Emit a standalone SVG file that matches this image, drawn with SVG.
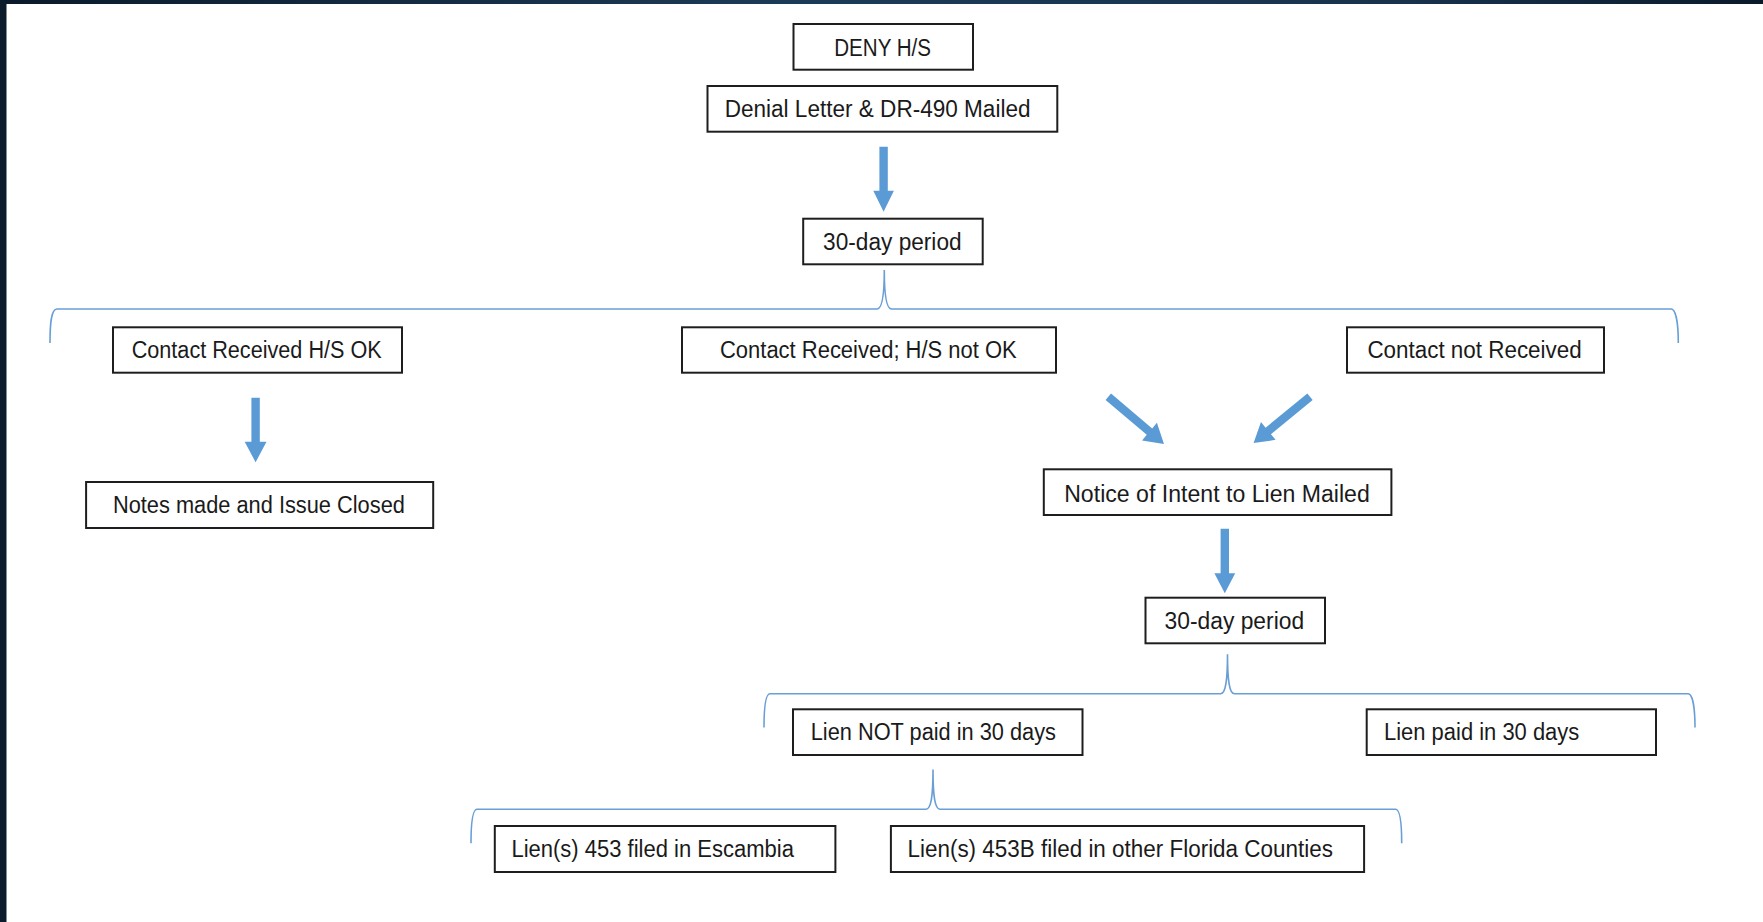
<svg xmlns="http://www.w3.org/2000/svg" xmlns:xlink="http://www.w3.org/1999/xlink" width="1763" height="922" viewBox="0 0 1763 922">
  <defs>
    <linearGradient id="band" x1="0" y1="0" x2="1" y2="0">
      <stop offset="0" stop-color="#0b1a2a"/>
      <stop offset="0.45" stop-color="#1c3b58"/>
      <stop offset="0.8" stop-color="#17324d"/>
      <stop offset="1" stop-color="#0b1a2a"/>
    </linearGradient>
    <path id="darrow" d="M0,-4.2 L54,-4.2 L54,-11.5 L73,0 L54,11.5 L54,4.2 L0,4.2 Z"/>
  </defs>
  <style>
    .box { fill: #ffffff; stroke: #1e1e1e; stroke-width: 2; }
    .lbl { font-family: "Liberation Sans", Arial, sans-serif; font-size: 23px; fill: #1a1a1a; }
    .brace { fill: none; stroke: #6a9fd6; stroke-width: 1.6; }
    .arrow { fill: #5b9bd5; stroke: none; }
  </style>

  <rect x="0" y="0" width="1763" height="922" fill="#ffffff"/>
  <rect x="0" y="0" width="1763" height="4" fill="url(#band)"/>
  <rect x="0" y="0" width="6.5" height="922" fill="#0c1b2b"/>

  <g id="connectors">
    <path class="brace" d="M50,343 C50,324 51,309 57,309 L877,309 C882,309 884.3,296 884.3,270 C884.3,296 886.5,309 891.5,309 L1671,309 C1676,309 1678.3,324 1678.3,343"/>
    <path class="brace" d="M764,727.5 C764,710 765,693.8 770,693.8 L1220.5,693.8 C1225.5,693.8 1227.5,681 1227.5,654.3 C1227.5,681 1229.5,693.8 1234.5,693.8 L1688,693.8 C1693,693.8 1695,710 1695,727.5"/>
    <path class="brace" d="M471,843.3 C471,826 472,809.3 477,809.3 L926,809.3 C931,809.3 933,797 933,769.5 C933,797 935,809.3 940,809.3 L1395.5,809.3 C1400.5,809.3 1401.7,826 1401.7,843.3"/>
    <path class="arrow" d="M879.4,146.7 L887.8,146.7 L887.8,190.7 L893.9,190.7 L883.6,211.7 L873.3,190.7 L879.4,190.7 Z"/>
    <path class="arrow" d="M251.4,397.7 L259.8,397.7 L259.8,441.7 L266.5,441.7 L255.6,462.3 L244.7,441.7 L251.4,441.7 Z"/>
    <path class="arrow" d="M1220.6,528.7 L1229,528.7 L1229,573.3 L1235.2,573.3 L1224.8,593.3 L1214.4,573.3 L1220.6,573.3 Z"/>
    <use class="arrow" xlink:href="#darrow" transform="translate(1108.3,396.7) rotate(40.3)"/>
    <use class="arrow" xlink:href="#darrow" transform="translate(1310,396.7) rotate(140.6)"/>
  </g>

  <g id="n-deny">
    <rect class="box" x="793.5" y="24" width="179.5" height="45.7"/>
    <text class="lbl" x="834.2" y="56" textLength="96.8" lengthAdjust="spacingAndGlyphs">DENY H/S</text>
  </g>
  <g id="n-denial">
    <rect class="box" x="707.5" y="86" width="349.8" height="45.7"/>
    <text class="lbl" x="724.7" y="116.7" textLength="305.8" lengthAdjust="spacingAndGlyphs">Denial Letter &amp; DR-490 Mailed</text>
  </g>
  <g id="n-30day-1">
    <rect class="box" x="803.2" y="218.7" width="179.5" height="45.6"/>
    <text class="lbl" x="823.1" y="249.8" textLength="138.5" lengthAdjust="spacingAndGlyphs">30-day period</text>
  </g>
  <g id="n-ok">
    <rect class="box" x="113" y="327.3" width="289" height="45.4"/>
    <text class="lbl" x="131.7" y="358.3" textLength="250" lengthAdjust="spacingAndGlyphs">Contact Received H/S OK</text>
  </g>
  <g id="n-notok">
    <rect class="box" x="682" y="327.3" width="374" height="45.4"/>
    <text class="lbl" x="720" y="358.3" textLength="296.7" lengthAdjust="spacingAndGlyphs">Contact Received; H/S not OK</text>
  </g>
  <g id="n-notreceived">
    <rect class="box" x="1347" y="327.3" width="257" height="45.4"/>
    <text class="lbl" x="1367.4" y="358.3" textLength="214.3" lengthAdjust="spacingAndGlyphs">Contact not Received</text>
  </g>
  <g id="n-notes">
    <rect class="box" x="86.1" y="482" width="347.1" height="46"/>
    <text class="lbl" x="112.9" y="512.5" textLength="292" lengthAdjust="spacingAndGlyphs">Notes made and Issue Closed</text>
  </g>
  <g id="n-notice">
    <rect class="box" x="1043.8" y="469.3" width="347.6" height="45.7"/>
    <text class="lbl" x="1064.2" y="501.5" textLength="305.6" lengthAdjust="spacingAndGlyphs">Notice of Intent to Lien Mailed</text>
  </g>
  <g id="n-30day-2">
    <rect class="box" x="1145.5" y="597.7" width="179.5" height="45.6"/>
    <text class="lbl" x="1164.5" y="628.8" textLength="139.6" lengthAdjust="spacingAndGlyphs">30-day period</text>
  </g>
  <g id="n-notpaid">
    <rect class="box" x="793" y="709.3" width="289.5" height="45.7"/>
    <text class="lbl" x="810.7" y="740.3" textLength="245.3" lengthAdjust="spacingAndGlyphs">Lien NOT paid in 30 days</text>
  </g>
  <g id="n-paid">
    <rect class="box" x="1366.7" y="709.3" width="289.3" height="45.7"/>
    <text class="lbl" x="1384" y="740.3" textLength="195.3" lengthAdjust="spacingAndGlyphs">Lien paid in 30 days</text>
  </g>
  <g id="n-escambia">
    <rect class="box" x="494.8" y="826" width="340.6" height="46"/>
    <text class="lbl" x="511.4" y="857" textLength="282.6" lengthAdjust="spacingAndGlyphs">Lien(s) 453 filed in Escambia</text>
  </g>
  <g id="n-other">
    <rect class="box" x="890.9" y="826" width="473.2" height="46"/>
    <text class="lbl" x="907.5" y="857" textLength="425.4" lengthAdjust="spacingAndGlyphs">Lien(s) 453B filed in other Florida Counties</text>
  </g>
</svg>
